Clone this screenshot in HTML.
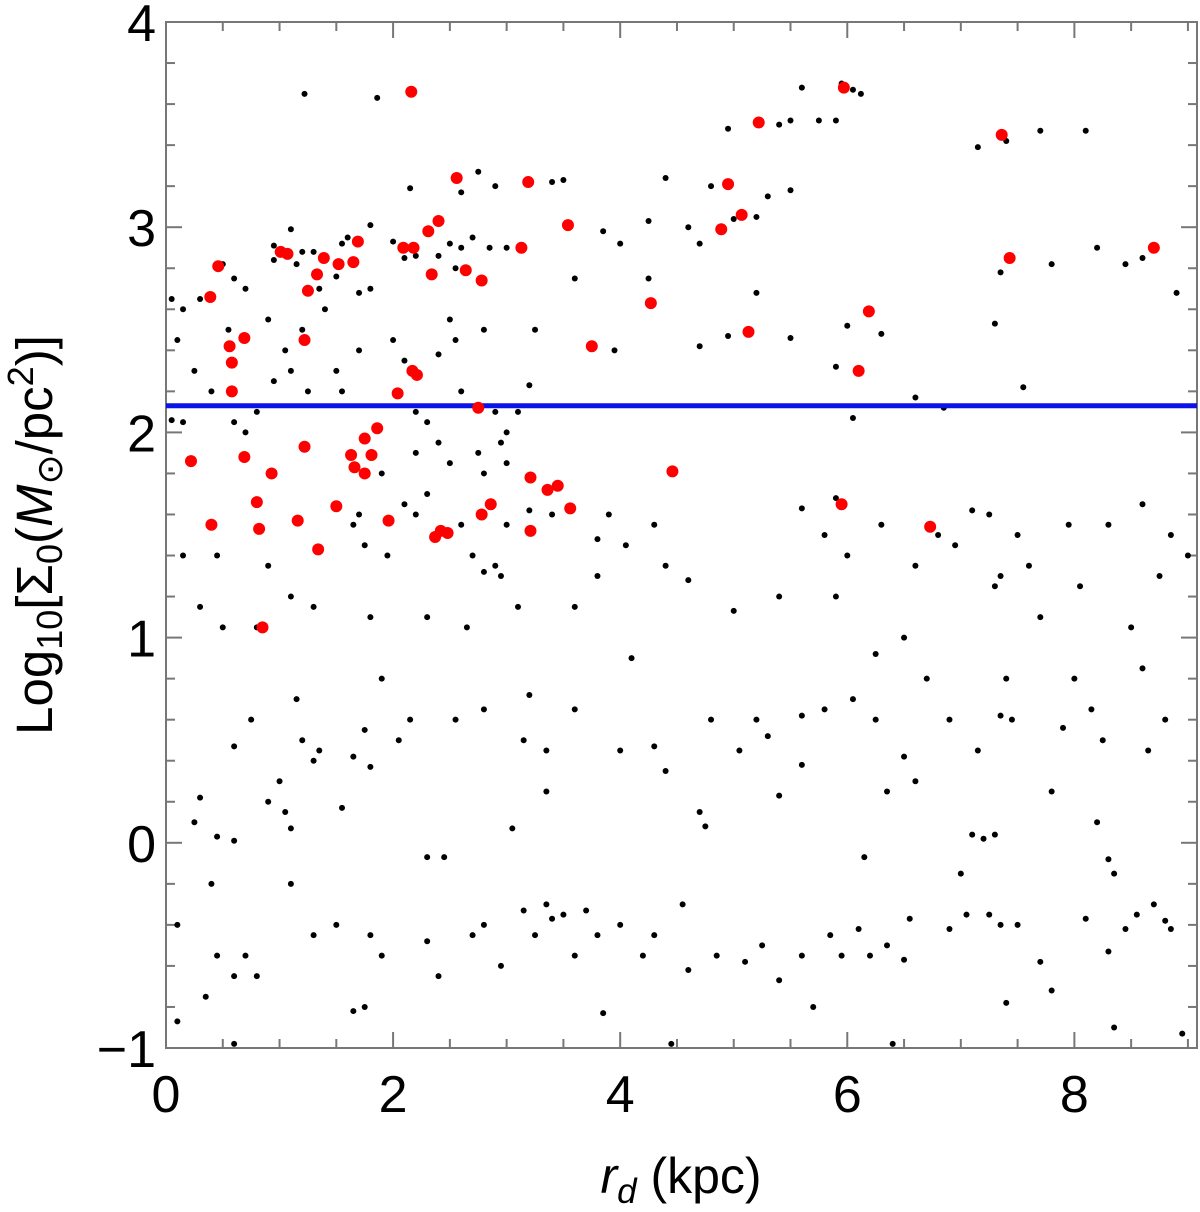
<!DOCTYPE html>
<html><head><meta charset="utf-8"><style>
body{margin:0;background:#fff;}
svg text{font-family:"Liberation Sans",sans-serif;}
</style></head><body>
<svg id="chart" width="1200" height="1207" viewBox="0 0 1200 1207" xmlns="http://www.w3.org/2000/svg">
<g id="ticks"></g>
<g id="pts"></g>
<g id="labels">
<text x="681" y="1193" font-size="50" text-anchor="middle"><tspan font-style="italic">r</tspan><tspan font-style="italic" font-size="35" dy="10">d</tspan><tspan dy="-10"> (kpc)</tspan></text>
<text transform="translate(52,535) rotate(-90)" font-size="51" text-anchor="middle">Log<tspan font-size="36" dy="10">10</tspan><tspan dy="-10">[Σ</tspan><tspan font-size="36" dy="10">0</tspan><tspan dy="-10">(</tspan><tspan font-style="italic">M</tspan><tspan font-size="36" dy="10">⊙</tspan><tspan dy="-10">/pc</tspan><tspan font-size="36" dy="-19">2</tspan><tspan dy="19">)]</tspan></text>
</g>
</svg>
<script>
const xTicks=[0,2,4,6,8];
const yTicks=[-1,0,1,2,3,4];
const threshold=2.13;
const redX=[0.22,0.39,0.46,0.40,0.56,0.58,0.58,0.69,0.69,0.85,0.80,0.82,0.93,1.16,1.01,1.07,1.22,1.22,1.25,1.33,1.34,1.39,1.50,1.52,1.63,1.65,1.66,1.69,1.75,1.75,1.81,1.86,1.96,2.04,2.09,2.17,2.18,2.21,2.31,2.34,2.37,2.40,2.42,2.48,2.56,2.64,2.75,2.78,2.78,2.86,3.13,3.19,3.21,3.21,3.36,3.45,3.54,3.56,3.75,4.27,4.46,4.89,4.95,5.13,5.07,5.22,5.97,5.95,6.10,6.19,6.73,7.36,7.43,8.70,2.16];
const redY=[1.86,2.66,2.81,1.55,2.42,2.34,2.20,2.46,1.88,1.05,1.66,1.53,1.80,1.57,2.88,2.87,2.45,1.93,2.69,2.77,1.43,2.85,1.64,2.82,1.89,2.83,1.83,2.93,1.97,1.80,1.89,2.02,1.57,2.19,2.90,2.30,2.90,2.28,2.98,2.77,1.49,3.03,1.52,1.51,3.24,2.79,2.12,2.74,1.60,1.65,2.90,3.22,1.78,1.52,1.72,1.74,3.01,1.63,2.42,2.63,1.81,2.99,3.21,2.49,3.06,3.51,3.68,1.65,2.30,2.59,1.54,3.45,2.85,2.90,3.66];
const blackPts=[[2.15,3.66],[1.22,3.65],[1.86,3.63],[5.6,3.68],[5.95,3.7],[6.05,3.67],[6.12,3.65],[5.4,3.5],[5.5,3.52],[5.75,3.52],[5.9,3.52],[4.95,3.48],[7.4,3.42],[7.7,3.47],[8.1,3.47],[7.15,3.39],[3.4,3.22],[3.5,3.23],[4.4,3.24],[2.75,3.27],[2.6,3.17],[2.9,3.2],[2.15,3.19],[4.8,3.2],[5.3,3.15],[5.5,3.18],[5.2,3.05],[5.0,3.04],[4.6,3.0],[4.7,2.92],[4.25,3.03],[3.85,2.98],[4.0,2.92],[1.1,2.99],[1.8,3.01],[1.6,2.95],[0.95,2.91],[1.2,2.88],[1.3,2.88],[2.0,2.93],[2.2,2.86],[2.6,2.9],[2.7,2.95],[2.85,2.9],[3.0,2.9],[2.5,2.92],[2.1,2.85],[1.55,2.92],[0.95,2.84],[1.15,2.82],[1.35,2.7],[1.5,2.76],[1.7,2.68],[2.4,2.86],[2.55,2.8],[0.5,2.82],[0.6,2.75],[0.7,2.7],[0.3,2.65],[0.15,2.6],[0.05,2.65],[0.1,2.45],[0.55,2.5],[0.9,2.55],[1.05,2.4],[1.2,2.5],[1.4,2.6],[1.8,2.7],[2.5,2.55],[2.55,2.45],[2.8,2.5],[3.25,2.5],[3.6,2.75],[3.95,2.4],[4.25,2.75],[4.7,2.42],[4.95,2.47],[5.5,2.46],[5.2,2.68],[6.3,2.48],[6.0,2.52],[5.9,2.32],[7.35,2.78],[7.3,2.53],[7.8,2.82],[8.2,2.9],[8.45,2.82],[8.6,2.85],[8.9,2.68],[7.55,2.22],[6.6,2.17],[6.85,2.12],[6.05,2.07],[0.05,2.06],[0.15,2.05],[0.25,2.3],[0.4,2.2],[0.6,2.05],[0.7,2.0],[0.8,2.1],[0.95,2.25],[1.1,2.3],[1.25,2.2],[1.5,2.3],[1.55,2.2],[1.7,2.4],[2.0,2.45],[2.1,2.35],[2.4,2.38],[2.2,2.1],[2.3,2.05],[2.6,2.2],[2.9,2.1],[3.0,2.0],[3.2,2.23],[3.1,2.1],[2.75,1.9],[2.95,1.95],[3.0,1.85],[2.8,1.8],[2.5,1.85],[2.4,1.95],[2.2,1.9],[1.9,1.8],[2.1,1.65],[2.3,1.7],[1.7,1.6],[1.65,1.55],[1.75,1.45],[1.95,1.4],[2.2,1.6],[2.6,1.55],[2.7,1.4],[2.8,1.32],[2.9,1.35],[2.95,1.3],[3.2,1.62],[3.0,1.55],[3.4,1.6],[3.8,1.48],[3.9,1.6],[4.05,1.45],[4.3,1.55],[4.6,1.28],[4.4,1.35],[5.0,1.13],[5.4,1.2],[5.6,1.63],[5.8,1.5],[5.9,1.68],[6.0,1.4],[6.3,1.55],[6.6,1.35],[6.8,1.5],[6.95,1.45],[7.1,1.62],[7.25,1.6],[7.35,1.3],[7.3,1.25],[7.5,1.5],[7.6,1.35],[7.7,1.1],[7.95,1.55],[8.05,1.25],[8.3,1.55],[8.6,1.65],[8.75,1.3],[8.85,1.5],[9.0,1.4],[0.45,1.4],[0.5,1.05],[0.3,1.15],[0.15,1.4],[0.9,1.35],[0.8,1.05],[1.1,1.2],[1.3,1.15],[1.8,1.1],[2.3,1.1],[2.65,1.05],[3.1,1.15],[3.6,1.15],[3.8,1.3],[4.1,0.9],[5.9,1.2],[6.25,0.92],[6.5,1.0],[6.7,0.8],[7.4,0.8],[8.0,0.8],[8.5,1.05],[8.6,0.85],[0.6,0.47],[0.75,0.6],[1.0,0.3],[1.15,0.7],[1.2,0.5],[1.35,0.45],[1.3,0.4],[1.65,0.42],[1.75,0.55],[1.8,0.37],[1.9,0.8],[2.05,0.5],[2.15,0.6],[2.55,0.6],[2.8,0.65],[3.15,0.5],[3.2,0.72],[3.35,0.45],[3.6,0.65],[4.0,0.45],[4.3,0.47],[4.4,0.35],[4.8,0.6],[5.2,0.6],[5.3,0.52],[5.6,0.62],[5.8,0.65],[6.05,0.7],[6.25,0.6],[6.5,0.42],[6.9,0.6],[7.15,0.45],[7.35,0.62],[7.45,0.6],[7.9,0.56],[8.15,0.65],[8.25,0.5],[8.65,0.45],[8.8,0.6],[0.3,0.22],[0.25,0.1],[0.45,0.03],[0.6,0.01],[0.9,0.2],[1.05,0.15],[1.1,0.07],[1.55,0.17],[3.05,0.07],[3.35,0.25],[4.7,0.15],[4.75,0.08],[5.05,0.45],[5.6,0.38],[5.4,0.23],[6.15,-0.07],[6.35,0.25],[6.6,0.3],[7.0,-0.15],[7.1,0.04],[7.2,0.02],[7.3,0.04],[7.8,0.25],[8.2,0.1],[8.3,-0.08],[8.35,-0.15],[0.4,-0.2],[0.1,-0.4],[0.45,-0.55],[0.6,-0.65],[0.7,-0.55],[0.8,-0.65],[1.1,-0.2],[1.3,-0.45],[1.5,-0.4],[1.65,-0.82],[1.8,-0.45],[1.9,-0.55],[2.3,-0.07],[2.45,-0.07],[2.3,-0.48],[2.4,-0.65],[2.7,-0.45],[2.8,-0.4],[3.15,-0.33],[3.25,-0.45],[3.35,-0.3],[3.4,-0.37],[3.5,-0.35],[3.6,-0.55],[3.7,-0.33],[3.8,-0.45],[4.0,-0.4],[4.2,-0.55],[4.3,-0.45],[4.55,-0.3],[4.6,-0.62],[4.85,-0.55],[5.1,-0.58],[5.25,-0.5],[5.4,-0.67],[5.6,-0.55],[5.7,-0.8],[5.85,-0.45],[5.95,-0.55],[6.1,-0.42],[6.2,-0.55],[6.35,-0.5],[6.5,-0.57],[6.55,-0.37],[6.9,-0.42],[7.05,-0.35],[7.25,-0.35],[7.35,-0.4],[7.5,-0.4],[7.4,-0.78],[7.7,-0.58],[7.8,-0.72],[8.1,-0.37],[8.3,-0.53],[8.45,-0.42],[8.55,-0.35],[8.7,-0.3],[8.8,-0.38],[8.85,-0.42],[8.95,-0.93],[8.35,-0.9],[6.4,-0.98],[4.45,-0.98],[0.6,-0.98],[0.1,-0.87],[1.75,-0.8],[3.85,-0.83],[2.95,-0.6],[0.35,-0.75]];
const L=166,R=1197,T=22,B=1048,XMAX=9.08,YMIN=-1,YMAX=4;
const sx=v=>L+v/XMAX*(R-L);
const sy=v=>B-(v-YMIN)/(YMAX-YMIN)*(B-T);
const NS="http://www.w3.org/2000/svg";
function mk(tag,attrs,parent){const e=document.createElementNS(NS,tag);for(const k in attrs)e.setAttribute(k,attrs[k]);parent.appendChild(e);return e;}
const tg=document.getElementById('ticks');
const frame=mk('rect',{x:L,y:T,width:R-L,height:B-T,fill:'none',stroke:'#777','stroke-width':2},tg);


for(let v=0;v<=XMAX+1e-9;v+=0.5){const major=Math.abs(v/2-Math.round(v/2))<1e-9;const len=major?16:9;
 mk('line',{x1:sx(v),x2:sx(v),y1:B,y2:B-len,stroke:'#777','stroke-width':2},tg);
 mk('line',{x1:sx(v),x2:sx(v),y1:T,y2:T+len,stroke:'#777','stroke-width':2},tg);}
for(let v=YMIN;v<=YMAX+1e-9;v+=0.2){const major=Math.abs(v-Math.round(v))<1e-9;const len=major?16:9;
 mk('line',{x1:L,x2:L+len,y1:sy(v),y2:sy(v),stroke:'#777','stroke-width':2},tg);
 mk('line',{x1:R,x2:R-len,y1:sy(v),y2:sy(v),stroke:'#777','stroke-width':2},tg);}
xTicks.forEach(v=>{const t=mk('text',{x:sx(v),y:B+64,'font-size':52,'text-anchor':'middle'},tg);t.textContent=v;
 
 });
yTicks.forEach(v=>{const t=mk('text',{x:L-10,y:sy(v)+19,'font-size':52,'text-anchor':'end'},tg);t.textContent=v<0?'\u2212'+(-v):v;
 
 });
const pg=document.getElementById('pts');
blackPts.forEach(p=>{const c=mk('circle',{cx:sx(p[0]),cy:sy(p[1]),r:3,fill:'#000'},pg);
 
 });
const ln=mk('line',{x1:L,x2:R,y1:sy(threshold),y2:sy(threshold),stroke:'#0a14e6','stroke-width':5},pg);


redX.forEach((x,i)=>{const c=mk('circle',{cx:sx(x),cy:sy(redY[i]),r:6,fill:'#f00'},pg);
 
 });
</script>
</body></html>
